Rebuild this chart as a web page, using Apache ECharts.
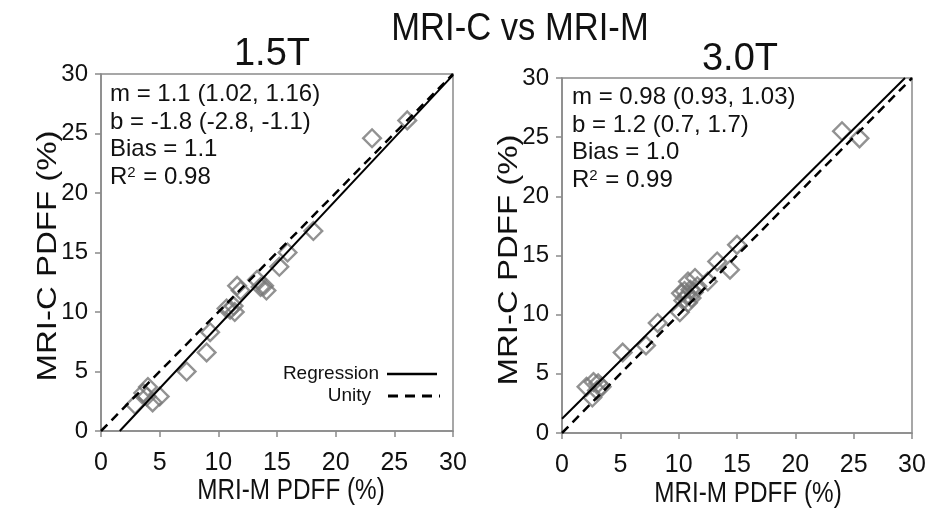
<!DOCTYPE html>
<html><head><meta charset="utf-8">
<script src="https://cdn.jsdelivr.net/npm/echarts@6/dist/echarts.min.js"></script>
<style>html,body{margin:0;padding:0;background:#fff}#c{width:934px;height:514px}</style>
</head><body><div id="c"></div>
<script>
// ---- data ----
const title = 'MRI-C vs MRI-M';
const panelTitles = ['1.5T', '3.0T'];
const xName = 'MRI-M PDFF (%)';
const yName = 'MRI-C PDFF (%)';
const axisMin = 0, axisMax = 30, axisStep = 5;

// 1.5T: [MRI-M, MRI-C]
const pts15 = [
  [2.9,2.2],[3.6,3.2],[4.0,3.7],[3.9,2.9],[4.4,2.4],[5.0,2.9],
  [7.3,5.0],[9.0,6.6],[9.3,8.3],
  [10.7,10.3],[11.0,10.2],[11.4,10.0],[11.3,10.5],[11.6,12.2],[11.9,11.8],
  [13.3,12.7],[13.6,12.1],[14.1,11.8],[13.9,12.2],
  [15.2,13.8],[15.9,15.0],[18.1,16.8],[23.1,24.6],[26.1,26.1]
];
// 3.0T: [MRI-M, MRI-C]
const pts30 = [
  [2.1,3.9],[2.7,4.3],[3.1,4.2],[3.4,3.9],[2.6,3.0],[3.0,3.6],
  [5.2,6.8],[7.2,7.4],[8.2,9.3],
  [10.1,10.2],[10.2,11.8],[10.5,12.0],[10.7,11.6],[10.8,11.0],[11.0,12.1],
  [11.3,11.9],[11.6,12.4],[10.4,11.2],[11.1,11.4],[10.8,12.8],[11.4,13.1],
  [12.5,12.8],[13.3,14.5],[14.4,13.8],[15.0,15.9],[24.0,25.5],[25.5,24.9]
];
const reg15 = [[1.6,0],[30,29.9]];
const reg30 = [[0,1.2],[29.4,30]];
const unity = [[0,0],[30,30]];

const stats15 = ['m = 1.1 (1.02, 1.16)', 'b = -1.8 (-2.8, -1.1)', 'Bias = 1.1', 'R{s|2} = 0.98'];
const stats30 = ['m = 0.98 (0.93, 1.03)', 'b = 1.2 (0.7, 1.7)', 'Bias = 1.0', 'R{s|2} = 0.99'];
const legendNames = ['Regression', 'Unity'];

// ---- chart ----
const FR = '"Liberation Sans", Arial, sans-serif';
const AX = '#8a8a8a';
const chart = echarts.init(document.getElementById('c'), null, {renderer: 'canvas'});

function xAx(i) {
  return {
    gridIndex: i, type: 'value', min: axisMin, max: axisMax, interval: axisStep,
    axisLine: {show: true, onZero: false, lineStyle: {color: AX, width: 1.5}},
    axisTick: {show: true, length: 6, lineStyle: {color: AX, width: 1.5}},
    splitLine: {show: false},
    axisLabel: {fontSize: 25, color: '#111', margin: 20, fontFamily: FR}
  };
}
function yAx(i) {
  return {
    gridIndex: i, type: 'value', min: axisMin, max: axisMax, interval: axisStep,
    axisLine: {show: true, onZero: false, lineStyle: {color: AX, width: 1.5}},
    axisTick: {show: true, length: 6, lineStyle: {color: AX, width: 1.5}},
    splitLine: {show: false},
    axisLabel: {fontSize: 24, color: '#111', margin: 13, fontFamily: FR}
  };
}
function scatter(i, data) {
  return {
    type: 'scatter', xAxisIndex: i, yAxisIndex: i, data: data,
    symbol: 'rect', symbolSize: 12.5, symbolRotate: 45,
    itemStyle: {color: 'rgba(0,0,0,0)', borderColor: '#777', borderWidth: 2.4},
    z: 2, silent: true
  };
}
function line(i, data, dashed) {
  return {
    type: 'line', xAxisIndex: i, yAxisIndex: i, data: data, showSymbol: false,
    lineStyle: {color: '#000', width: dashed ? 2.5 : 2, type: dashed ? [9, 6] : 'solid'},
    z: 3, silent: true, clip: true
  };
}
function statText(x, y0, lines) {
  const step = [0, 28, 55, 83];
  return lines.map((t, k) => ({
    type: 'text', x: x, y: y0 + step[k],
    style: {text: t, fontSize: 24, fontFamily: FR, fill: '#111', textVerticalAlign: 'middle',
      rich: {s: {fontSize: 15, fontFamily: FR, fill: '#111', verticalAlign: 'top', padding: [0, 1, 0, 0]}}}
  }));
}
function label(x, y, text, size, sx, rot) {
  const el = {type: 'text', x: x, y: y,
    style: {text: text, fontSize: size, fontFamily: FR, fill: '#111', textAlign: 'center', textVerticalAlign: 'middle'}};
  if (rot) { el.rotation = Math.PI / 2; el.scaleY = sx; } else { el.scaleX = sx; }
  return el;
}

const graphics = [
  label(520, 30, title, 38, 0.91),
  label(272, 55, panelTitles[0], 38, 1),
  label(740, 60, panelTitles[1], 38, 1),
  label(291, 491, xName, 30, 0.81),
  label(748, 494, xName, 30, 0.81),
  label(49, 256, yName, 33, 0.81, true),
  label(510, 260, yName, 33, 0.81, true),
  ...statText(110, 94, stats15),
  ...statText(572, 97, stats30),
  {type: 'text', x: 379, y: 374, style: {text: legendNames[0], fontSize: 19, fontFamily: FR, fill: '#111', textAlign: 'right', textVerticalAlign: 'middle'}},
  {type: 'text', x: 371, y: 396, style: {text: legendNames[1], fontSize: 19, fontFamily: FR, fill: '#111', textAlign: 'right', textVerticalAlign: 'middle'}},
  {type: 'line', shape: {x1: 387, y1: 374, x2: 437, y2: 374}, style: {stroke: '#000', lineWidth: 2.5}},
  {type: 'line', shape: {x1: 388, y1: 396, x2: 440, y2: 396}, style: {stroke: '#000', lineWidth: 3, lineDash: [10, 7]}}
];

chart.setOption({
  backgroundColor: '#fff',
  animation: false,
  grid: [
    {left: 101, top: 74, width: 352, height: 357, show: true, borderColor: AX, borderWidth: 1.5, backgroundColor: 'transparent'},
    {left: 562, top: 78, width: 350, height: 355, show: true, borderColor: AX, borderWidth: 1.5, backgroundColor: 'transparent'}
  ],
  xAxis: [xAx(0), xAx(1)],
  yAxis: [yAx(0), yAx(1)],
  series: [
    scatter(0, pts15), line(0, reg15, false), line(0, unity, true),
    scatter(1, pts30), line(1, reg30, false), line(1, unity, true)
  ],
  graphic: graphics
});
</script></body></html>
